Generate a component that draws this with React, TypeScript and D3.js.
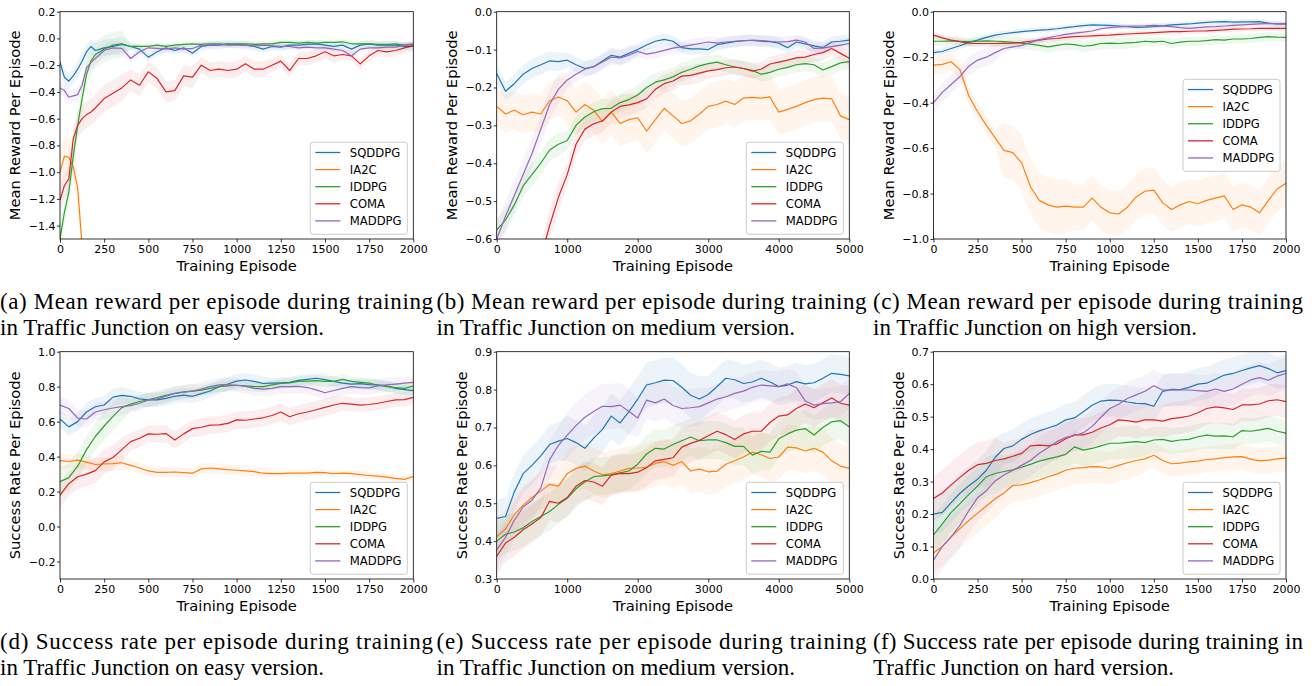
import React, { useEffect, useRef } from "react";
import * as d3 from "d3";

// series order matches the legend
const names = ["SQDDPG", "IA2C", "IDDPG", "COMA", "MADDPG"];
const colors = ["#1f77b4", "#ff7f0e", "#2ca02c", "#d62728", "#9467bd"];

// episode grids
const epA = [0, 25, 50, 75, 100, 125, 150, 175, 200, ...d3.range(250, 2001, 50)];
const ep2k = d3.range(0, 2001, 50);
const ep5k = d3.range(0, 5001, 125);

const xTicks2k = [0, 250, 500, 750, 1000, 1250, 1500, 1750, 2000];
const xTicks5k = [0, 1000, 2000, 3000, 4000, 5000];

// (a) reward, easy
const sqA = [-0.18,-0.29,-0.32,-0.28,-0.23,-0.17,-0.10,-0.06,-0.09,
  -0.07,-0.06,-0.045,-0.06,-0.08,-0.14,-0.10,-0.07,-0.09,-0.07,
  -0.11,-0.06,-0.05,-0.05,-0.04,-0.045,-0.05,-0.06,-0.08,-0.06,
  -0.065,-0.05,-0.05,-0.045,-0.04,-0.05,-0.06,-0.05,-0.08,-0.05,
  -0.04,-0.05,-0.05,-0.05,-0.06,-0.06];
const iaA = [-1.0,-0.88,-0.89,-0.96,-1.12,-1.55];
const idA = [-1.5,-1.3,-1.15,-0.88,-0.65,-0.45,-0.27,-0.17,-0.12,
  -0.08,-0.05,-0.04,-0.06,-0.06,-0.06,-0.05,-0.06,-0.05,-0.045,
  -0.04,-0.045,-0.04,-0.04,-0.045,-0.04,-0.04,-0.045,-0.04,-0.04,
  -0.03,-0.03,-0.035,-0.03,-0.035,-0.03,-0.03,-0.025,-0.04,-0.04,
  -0.04,-0.045,-0.045,-0.04,-0.05,-0.05];
const coA = [-1.21,-1.10,-1.05,-0.75,-0.65,-0.60,-0.57,-0.55,-0.52,
  -0.45,-0.41,-0.37,-0.31,-0.35,-0.25,-0.30,-0.40,-0.39,-0.28,
  -0.29,-0.20,-0.24,-0.23,-0.24,-0.23,-0.19,-0.23,-0.23,-0.20,
  -0.17,-0.24,-0.15,-0.15,-0.13,-0.10,-0.13,-0.12,-0.13,-0.19,
  -0.13,-0.09,-0.10,-0.09,-0.07,-0.055];
const maA = [-0.37,-0.39,-0.44,-0.43,-0.42,-0.35,-0.22,-0.18,-0.15,
  -0.09,-0.07,-0.075,-0.15,-0.10,-0.07,-0.075,-0.08,-0.07,-0.08,
  -0.075,-0.05,-0.05,-0.045,-0.05,-0.05,-0.05,-0.055,-0.05,-0.055,
  -0.06,-0.06,-0.07,-0.065,-0.07,-0.07,-0.08,-0.09,-0.13,-0.08,
  -0.07,-0.07,-0.065,-0.065,-0.05,-0.04];
const spreadA = [[0.06,0.03,0.03,0.03,0.03],[0.15,0.15,0.15,0.15,0.15],[0.1,0.02,0.02,0.02,0.02],[0.1,0.08,0.06,0.05,0.04],[0.05,0.03,0.02,0.02,0.02]];

// (b) reward, medium
const sqB = [-0.163,-0.21,-0.19,-0.165,-0.15,-0.14,-0.13,-0.132,-0.128,-0.14,
  -0.15,-0.145,-0.13,-0.115,-0.12,-0.11,-0.10,-0.088,-0.078,-0.073,
  -0.078,-0.095,-0.098,-0.098,-0.10,-0.087,-0.083,-0.079,-0.076,-0.076,
  -0.078,-0.079,-0.083,-0.095,-0.08,-0.085,-0.09,-0.095,-0.08,-0.078,
  -0.075];
const iaB = [-0.25,-0.27,-0.26,-0.272,-0.265,-0.27,-0.235,-0.225,-0.235,-0.265,
  -0.245,-0.26,-0.29,-0.265,-0.295,-0.285,-0.28,-0.315,-0.285,-0.255,
  -0.275,-0.295,-0.288,-0.27,-0.25,-0.245,-0.236,-0.245,-0.228,-0.226,
  -0.228,-0.225,-0.265,-0.258,-0.25,-0.24,-0.232,-0.228,-0.23,-0.275,
  -0.285];
const idB = [-0.576,-0.55,-0.51,-0.46,-0.43,-0.40,-0.365,-0.35,-0.34,-0.30,
  -0.278,-0.264,-0.256,-0.255,-0.24,-0.232,-0.22,-0.20,-0.186,-0.18,
  -0.172,-0.16,-0.152,-0.143,-0.137,-0.133,-0.14,-0.146,-0.15,-0.155,
  -0.165,-0.16,-0.152,-0.147,-0.14,-0.137,-0.14,-0.154,-0.145,-0.135,
  -0.132];
const coB = [null,null,null,null,null,-0.65,-0.565,-0.49,-0.43,-0.35,
  -0.31,-0.296,-0.288,-0.265,-0.25,-0.246,-0.24,-0.23,-0.205,-0.19,
  -0.183,-0.17,-0.168,-0.162,-0.156,-0.153,-0.148,-0.146,-0.15,-0.157,
  -0.152,-0.138,-0.133,-0.128,-0.122,-0.12,-0.113,-0.108,-0.097,-0.11,
  -0.123];
const maB = [-0.60,-0.54,-0.485,-0.43,-0.375,-0.31,-0.245,-0.205,-0.18,-0.165,
  -0.152,-0.145,-0.133,-0.12,-0.122,-0.115,-0.105,-0.112,-0.108,-0.102,
  -0.096,-0.092,-0.088,-0.084,-0.08,-0.083,-0.08,-0.078,-0.077,-0.075,
  -0.076,-0.078,-0.08,-0.079,-0.075,-0.08,-0.097,-0.096,-0.092,-0.088,
  -0.084];
const spreadB = [[0.025,0.02,0.015,0.015,0.015],[0.05,0.06,0.06,0.06,0.06],[0.03,0.025,0.025,0.02,0.02],[0.04,0.03,0.025,0.02,0.02],[0.04,0.02,0.015,0.015,0.015]];

// (c) reward, high
const sqC = [-0.18,-0.175,-0.162,-0.15,-0.135,-0.125,-0.113,-0.103,-0.097,-0.092,
  -0.088,-0.084,-0.081,-0.079,-0.075,-0.07,-0.066,-0.061,-0.058,-0.059,
  -0.06,-0.063,-0.066,-0.069,-0.068,-0.066,-0.062,-0.058,-0.056,-0.054,
  -0.05,-0.047,-0.045,-0.044,-0.046,-0.045,-0.045,-0.044,-0.05,-0.054,
  -0.054];
const iaC = [-0.235,-0.232,-0.22,-0.255,-0.37,-0.44,-0.50,-0.555,-0.61,-0.62,
  -0.665,-0.77,-0.83,-0.85,-0.86,-0.855,-0.86,-0.86,-0.82,-0.86,
  -0.885,-0.89,-0.86,-0.815,-0.79,-0.785,-0.84,-0.87,-0.85,-0.835,
  -0.845,-0.83,-0.82,-0.81,-0.87,-0.85,-0.86,-0.885,-0.83,-0.78,
  -0.755];
const idC = [-0.13,-0.13,-0.128,-0.13,-0.132,-0.13,-0.128,-0.13,-0.132,-0.135,
  -0.138,-0.143,-0.148,-0.155,-0.148,-0.142,-0.145,-0.152,-0.148,-0.14,
  -0.138,-0.14,-0.137,-0.135,-0.13,-0.133,-0.13,-0.14,-0.134,-0.13,
  -0.13,-0.127,-0.123,-0.125,-0.12,-0.12,-0.118,-0.113,-0.11,-0.112,
  -0.113];
const coC = [-0.103,-0.115,-0.125,-0.132,-0.138,-0.14,-0.14,-0.14,-0.139,-0.138,
  -0.135,-0.13,-0.125,-0.12,-0.118,-0.113,-0.11,-0.108,-0.106,-0.104,
  -0.103,-0.1,-0.098,-0.096,-0.094,-0.092,-0.09,-0.088,-0.088,-0.086,
  -0.085,-0.084,-0.082,-0.08,-0.077,-0.076,-0.075,-0.073,-0.073,-0.073,
  -0.073];
const maC = [-0.40,-0.355,-0.32,-0.285,-0.24,-0.213,-0.2,-0.18,-0.162,-0.155,
  -0.148,-0.135,-0.123,-0.115,-0.107,-0.1,-0.094,-0.09,-0.085,-0.075,
  -0.07,-0.067,-0.065,-0.063,-0.062,-0.06,-0.062,-0.066,-0.07,-0.073,
  -0.07,-0.067,-0.066,-0.063,-0.06,-0.058,-0.056,-0.054,-0.052,-0.054,
  -0.054];
const spreadC = [[0.015,0.012,0.012,0.012,0.012],[0.04,0.12,0.1,0.1,0.1],[0.02,0.025,0.025,0.02,0.02],[0.015,0.012,0.012,0.012,0.012],[0.04,0.015,0.01,0.01,0.01]];

// (d) success, easy
const sqD = [0.615,0.57,0.60,0.655,0.685,0.695,0.74,0.75,0.745,0.73,
  0.724,0.725,0.733,0.745,0.752,0.745,0.76,0.775,0.80,0.815,
  0.832,0.838,0.83,0.818,0.82,0.822,0.825,0.836,0.842,0.848,
  0.84,0.83,0.82,0.815,0.817,0.812,0.81,0.804,0.79,0.783,
  0.777];
const iaD = [0.377,0.372,0.38,0.368,0.355,0.358,0.36,0.365,0.35,0.335,
  0.318,0.31,0.31,0.312,0.308,0.305,0.33,0.335,0.33,0.325,
  0.322,0.318,0.314,0.305,0.303,0.303,0.305,0.306,0.305,0.31,
  0.308,0.302,0.305,0.303,0.297,0.292,0.288,0.283,0.275,0.27,
  0.286];
const idD = [0.257,0.28,0.345,0.44,0.515,0.575,0.63,0.68,0.70,0.715,
  0.725,0.738,0.75,0.762,0.77,0.775,0.78,0.79,0.80,0.805,
  0.808,0.805,0.8,0.8,0.81,0.818,0.822,0.83,0.832,0.835,
  0.83,0.83,0.842,0.83,0.825,0.82,0.808,0.8,0.795,0.79,
  0.804];
const coD = [0.18,0.245,0.285,0.3,0.32,0.37,0.395,0.44,0.486,0.505,
  0.53,0.528,0.532,0.495,0.53,0.56,0.568,0.58,0.582,0.59,
  0.61,0.608,0.615,0.622,0.635,0.655,0.628,0.645,0.655,0.668,
  0.682,0.695,0.705,0.70,0.695,0.698,0.705,0.715,0.724,0.726,
  0.739];
const maD = [0.695,0.675,0.62,0.615,0.655,0.668,0.678,0.686,0.692,0.705,
  0.724,0.73,0.745,0.762,0.768,0.775,0.786,0.8,0.81,0.812,
  0.808,0.802,0.79,0.786,0.79,0.8,0.8,0.802,0.795,0.782,
  0.765,0.778,0.79,0.8,0.795,0.793,0.805,0.81,0.815,0.82,
  0.825];
const spreadD = [[0.05,0.04,0.04,0.03,0.03],[0.04,0.03,0.03,0.02,0.02],[0.08,0.04,0.03,0.03,0.03],[0.07,0.05,0.05,0.05,0.04],[0.05,0.04,0.04,0.04,0.04]];

// (e) success, medium
const sqE = [0.46,0.465,0.53,0.578,0.60,0.625,0.655,0.664,0.671,0.66,
  0.645,0.672,0.695,0.73,0.712,0.742,0.775,0.812,0.818,0.825,
  0.824,0.806,0.785,0.775,0.787,0.808,0.83,0.826,0.816,0.82,
  0.83,0.82,0.808,0.812,0.821,0.815,0.818,0.83,0.843,0.84,
  0.836];
const iaE = [0.412,0.432,0.47,0.495,0.515,0.532,0.55,0.545,0.578,0.592,
  0.598,0.585,0.575,0.578,0.585,0.592,0.593,0.595,0.605,0.61,
  0.6,0.61,0.585,0.59,0.583,0.585,0.603,0.612,0.622,0.635,
  0.628,0.618,0.622,0.648,0.646,0.638,0.645,0.635,0.612,0.598,
  0.592];
const idE = [0.40,0.418,0.424,0.435,0.452,0.465,0.478,0.497,0.513,0.538,
  0.556,0.57,0.572,0.575,0.58,0.585,0.603,0.63,0.645,0.643,
  0.655,0.665,0.675,0.665,0.667,0.667,0.66,0.65,0.65,0.627,
  0.637,0.635,0.67,0.683,0.693,0.697,0.68,0.7,0.715,0.718,
  0.702];
const coE = [0.36,0.395,0.41,0.43,0.445,0.462,0.505,0.5,0.515,0.545,
  0.56,0.556,0.545,0.574,0.579,0.578,0.582,0.594,0.612,0.616,
  0.62,0.648,0.658,0.666,0.678,0.69,0.681,0.668,0.683,0.69,
  0.69,0.713,0.73,0.733,0.75,0.762,0.752,0.765,0.778,0.764,
  0.759];
const maE = [0.377,0.41,0.455,0.49,0.508,0.54,0.615,0.653,0.68,0.705,
  0.727,0.742,0.756,0.755,0.759,0.742,0.725,0.772,0.765,0.775,
  0.758,0.75,0.752,0.755,0.765,0.775,0.781,0.79,0.796,0.806,
  0.812,0.81,0.808,0.815,0.805,0.77,0.759,0.763,0.765,0.768,
  0.79];
const spreadE = [[0.05,0.06,0.06,0.05,0.05],[0.05,0.06,0.06,0.06,0.06],[0.05,0.05,0.05,0.05,0.05],[0.05,0.05,0.05,0.05,0.05],[0.05,0.06,0.05,0.04,0.04]];

// (f) success, hard
const sqF = [0.20,0.205,0.235,0.264,0.287,0.307,0.335,0.375,0.402,0.41,
  0.43,0.445,0.456,0.465,0.474,0.49,0.496,0.515,0.535,0.548,
  0.551,0.55,0.545,0.541,0.54,0.532,0.578,0.584,0.583,0.59,
  0.6,0.603,0.615,0.628,0.633,0.642,0.65,0.657,0.648,0.635,
  0.642];
const iaF = [0.08,0.1,0.13,0.155,0.18,0.203,0.225,0.247,0.265,0.288,
  0.29,0.297,0.305,0.315,0.323,0.335,0.341,0.343,0.346,0.345,
  0.341,0.35,0.358,0.365,0.37,0.381,0.365,0.355,0.357,0.361,
  0.363,0.368,0.37,0.374,0.376,0.377,0.369,0.364,0.366,0.37,
  0.372];
const idF = [0.136,0.17,0.205,0.232,0.26,0.286,0.315,0.325,0.331,0.336,
  0.344,0.353,0.363,0.37,0.376,0.384,0.407,0.397,0.402,0.41,
  0.418,0.418,0.421,0.423,0.42,0.428,0.43,0.424,0.428,0.43,
  0.438,0.443,0.44,0.441,0.438,0.457,0.455,0.459,0.464,0.455,
  0.449];
const coF = [0.248,0.265,0.29,0.313,0.335,0.352,0.356,0.365,0.37,0.378,
  0.387,0.41,0.412,0.41,0.416,0.432,0.444,0.444,0.452,0.465,
  0.475,0.49,0.488,0.483,0.49,0.49,0.486,0.494,0.497,0.502,
  0.512,0.525,0.53,0.527,0.522,0.536,0.536,0.539,0.549,0.552,
  0.546];
const maF = [0.058,0.1,0.13,0.165,0.21,0.25,0.272,0.302,0.32,0.335,
  0.35,0.365,0.387,0.404,0.423,0.436,0.442,0.45,0.47,0.498,
  0.525,0.538,0.556,0.567,0.578,0.595,0.582,0.582,0.582,0.582,
  0.58,0.578,0.585,0.578,0.585,0.6,0.613,0.62,0.612,0.625,
  0.633];
const spreadF = [[0.06,0.05,0.05,0.05,0.05],[0.06,0.05,0.05,0.04,0.04],[0.06,0.05,0.05,0.04,0.04],[0.07,0.05,0.05,0.05,0.05],[0.07,0.05,0.05,0.05,0.05]];

const yTicksA = [0.2, 0.0, -0.2, -0.4, -0.6, -0.8, -1.0, -1.2, -1.4];
const yTicksB = [0.0, -0.1, -0.2, -0.3, -0.4, -0.5, -0.6];
const yTicksC = [0.0, -0.2, -0.4, -0.6, -0.8, -1.0];
const yTicksD = [1.0, 0.8, 0.6, 0.4, 0.2, 0.0, -0.2];
const yTicksE = [0.9, 0.8, 0.7, 0.6, 0.5, 0.4, 0.3];
const yTicksF = [0.0, 0.1, 0.2, 0.3, 0.4, 0.5, 0.6, 0.7];

const panels = [
  { id: "a", eps: epA, xMax: 2000, xTicks: xTicks2k, yDomain: [-1.5, 0.2], yTicks: yTicksA,
    series: [sqA, iaA, idA, coA, maA], spread: spreadA, yLabel: "Mean Reward Per Episode", labelOff: 45, legend: "lower",
    cap: ["(a) Mean reward per episode during training", "in Traffic Junction on easy version."] },
  { id: "b", eps: ep5k, xMax: 5000, xTicks: xTicks5k, yDomain: [-0.6, 0.0], yTicks: yTicksB,
    series: [sqB, iaB, idB, coB, maB], spread: spreadB, yLabel: "Mean Reward Per Episode", labelOff: 45, legend: "lower",
    cap: ["(b) Mean reward per episode during training", "in Traffic Junction on medium version."] },
  { id: "c", eps: ep2k, xMax: 2000, xTicks: xTicks2k, yDomain: [-1.0, 0.0], yTicks: yTicksC,
    series: [sqC, iaC, idC, coC, maC], spread: spreadC, yLabel: "Mean Reward Per Episode", labelOff: 45, legend: "center",
    cap: ["(c) Mean reward per episode during training", "in Traffic Junction on high version."] },
  { id: "d", eps: ep2k, xMax: 2000, xTicks: xTicks2k, yDomain: [-0.3, 1.0], yTicks: yTicksD,
    series: [sqD, iaD, idD, coD, maD], spread: spreadD, yLabel: "Success Rate Per Episode", labelOff: 45, legend: "lower",
    cap: ["(d) Success rate per episode during training", "in Traffic Junction on easy version."] },
  { id: "e", eps: ep5k, xMax: 5000, xTicks: xTicks5k, yDomain: [0.3, 0.9], yTicks: yTicksE,
    series: [sqE, iaE, idE, coE, maE], spread: spreadE, yLabel: "Success Rate Per Episode", labelOff: 35, legend: "lower",
    cap: ["(e) Success rate per episode during training", "in Traffic Junction on medium version."] },
  { id: "f", eps: ep2k, xMax: 2000, xTicks: xTicks2k, yDomain: [0.0, 0.7], yTicks: yTicksF,
    series: [sqF, iaF, idF, coF, maF], spread: spreadF, yLabel: "Success Rate Per Episode", labelOff: 35, legend: "lower",
    cap: ["(f) Success rate per episode during training in", "Traffic Junction on hard version."] },
];

// layout
const COLS = [[60, 413.3], [496.7, 849.3], [933.5, 1286]];
const ROWS = [[11.7, 239], [351.7, 579]];
const CAP_X = [0, 436.5, 873];
const CAP_W = [433, 430, 430];
const SANS = "'DejaVu Sans', sans-serif";
const SERIF = "'Liberation Serif', 'Times New Roman', serif";

function drawPanel(svg: any, defs: any, p: any, k: number) {
  const col = k % 3, row = Math.floor(k / 3);
  const [x0, x1] = COLS[col];
  const [y0, y1] = ROWS[row];
  const x = d3.scaleLinear().domain([0, p.xMax]).range([x0, x1]);
  const y = d3.scaleLinear().domain(p.yDomain).range([y1, y0]);
  const g = svg.append("g");

  defs.append("clipPath").attr("id", "clip-" + p.id)
    .append("rect").attr("x", x0).attr("y", y0).attr("width", x1 - x0).attr("height", y1 - y0);
  const plot = g.append("g").attr("clip-path", `url(#clip-${p.id})`);

  const pts = p.series.map((vals: any[], si: number) => vals.map((v, i) => ({
    e: p.eps[i], v,
    s: p.spread[si][Math.min(4, Math.floor((p.eps[i] / p.xMax) * 5))],
  })));

  const area = d3.area<any>().defined(d => d.v != null)
    .x(d => x(d.e)).y0(d => y(d.v - d.s)).y1(d => y(d.v + d.s));
  const line = d3.line<any>().defined(d => d.v != null)
    .x(d => x(d.e)).y(d => y(d.v));

  pts.forEach((ser: any[], si: number) => {
    plot.append("path").attr("d", area(ser)).attr("fill", colors[si]).attr("fill-opacity", 0.08);
  });
  pts.forEach((ser: any[], si: number) => {
    plot.append("path").attr("d", line(ser)).attr("fill", "none")
      .attr("stroke", colors[si]).attr("stroke-width", 1.2).attr("stroke-linejoin", "round");
  });

  // axes
  const xa = g.append("g").attr("transform", `translate(0,${y1})`)
    .call(d3.axisBottom(x).tickValues(p.xTicks).tickSize(3.5).tickPadding(2.5).tickFormat(d3.format("d")));
  const ya = g.append("g").attr("transform", `translate(${x0},0)`)
    .call(d3.axisLeft(y).tickValues(p.yTicks).tickSize(3).tickPadding(1.5).tickFormat(d3.format(".1f")));
  [xa, ya].forEach(a => {
    a.select(".domain").remove();
    a.selectAll("line").attr("stroke", "#000").attr("stroke-width", 0.8);
    a.selectAll("text").attr("fill", "#000").style("font-family", SANS).style("font-size", "11px");
  });

  g.append("rect").attr("x", x0).attr("y", y0).attr("width", x1 - x0).attr("height", y1 - y0)
    .attr("fill", "none").attr("stroke", "#000").attr("stroke-width", 0.8);

  g.append("text").attr("x", (x0 + x1) / 2).attr("y", y1 + 31.5)
    .attr("text-anchor", "middle").style("font-family", SANS).style("font-size", "14.7px")
    .text("Training Episode");
  g.append("text")
    .attr("transform", `translate(${x0 - p.labelOff},${(y0 + y1) / 2}) rotate(-90)`)
    .attr("text-anchor", "middle").attr("dy", "0.35em")
    .style("font-family", SANS).style("font-size", "14.7px")
    .text(p.yLabel);

  // legend
  const lw = 97, lh = 92;
  const lx = x1 - 6 - lw;
  const ly = p.legend === "center" ? (y0 + y1) / 2 - lh / 2 : y1 - 4.7 - lh;
  const lg = g.append("g");
  lg.append("rect").attr("x", lx).attr("y", ly).attr("width", lw).attr("height", lh)
    .attr("rx", 2.5).attr("fill", "#fff").attr("fill-opacity", 0.8)
    .attr("stroke", "#cccccc").attr("stroke-width", 1);
  names.forEach((n, i) => {
    const cy = ly + 10.2 + i * 17.1;
    lg.append("line").attr("x1", lx + 5).attr("x2", lx + 30).attr("y1", cy).attr("y2", cy)
      .attr("stroke", colors[i]).attr("stroke-width", 1.3);
    lg.append("text").attr("x", lx + 39.5).attr("y", cy).attr("dy", "0.36em")
      .style("font-family", SANS).style("font-size", "11.6px").text(n);
  });

  // caption
  const cx = CAP_X[col];
  const cb = row * 340 + 309;
  g.append("text").attr("x", cx).attr("y", cb)
    .attr("textLength", CAP_W[col]).attr("lengthAdjust", "spacing")
    .style("font-family", SERIF).style("font-size", "23px").text(p.cap[0]);
  g.append("text").attr("x", cx).attr("y", cb + 26)
    .style("font-family", SERIF).style("font-size", "23px").text(p.cap[1]);
}

export default function App() {
  const ref = useRef<SVGSVGElement>(null);

  useEffect(() => {
    const svg = d3.select(ref.current);
    svg.selectAll("*").remove();
    const defs = svg.append("defs");
    panels.forEach((p, k) => drawPanel(svg, defs, p, k));
  }, []);

  return (
    <div>
      <style>{"body{margin:0;background:#fff}"}</style>
      <svg ref={ref} width={1316} height={686} style={{ display: "block", background: "#fff" }} />
    </div>
  );
}
